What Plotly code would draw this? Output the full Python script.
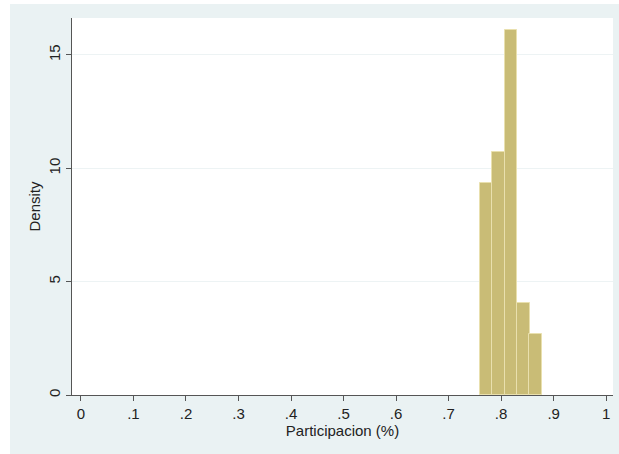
import plotly.graph_objects as go

# Histogram bins (Participacion share) and densities
bin_left = [0.759, 0.783, 0.807, 0.831, 0.854]
bin_width = 0.0238
density = [9.37, 10.73, 16.1, 4.04, 2.68]

x_ticks = [0, 0.1, 0.2, 0.3, 0.4, 0.5, 0.6, 0.7, 0.8, 0.9, 1]
x_tick_labels = ["0", ".1", ".2", ".3", ".4", ".5", ".6", ".7", ".8", ".9", "1"]
y_ticks = [0, 5, 10, 15]
y_tick_labels = ["0", "5", "10", "15"]

centers = [l + bin_width / 2 for l in bin_left]

W, H = 619, 454
ml, mr, mt, mb = 72, 6, 18, 59
pw = W - ml - mr
ph = H - mt - mb

fig = go.Figure()
fig.add_trace(go.Bar(
    x=centers, y=density, width=[bin_width] * len(centers),
    marker=dict(color="#c9bc76", line=dict(color="#e9e0ae", width=1)),
    hoverinfo="x+y",
))

font = dict(family="Liberation Sans, Arial, sans-serif", size=15, color="#222222")

# background shapes: bluish graph region, white plot region
fig.add_shape(type="rect", xref="paper", yref="paper",
              x0=(10 - ml) / pw, x1=(W - ml) / pw,
              y0=-mb / ph, y1=(H - 4 - mb) / ph,
              fillcolor="#eaf2f3", line=dict(width=0), layer="below")
fig.add_shape(type="rect", xref="paper", yref="paper",
              x0=0, x1=1, y0=0, y1=1,
              fillcolor="white", line=dict(width=0), layer="below")

fig.update_layout(
    width=W, height=H,
    margin=dict(l=ml, r=mr, t=mt, b=mb, pad=0),
    paper_bgcolor="white", plot_bgcolor="rgba(0,0,0,0)",
    showlegend=False, bargap=0, font=font,
)
fig.update_xaxes(
    range=[-0.017, 1.013], tickvals=x_ticks, ticktext=x_tick_labels,
    showline=True, linecolor="#555555", linewidth=1,
    ticks="outside", ticklen=5, tickcolor="#555555",
    showgrid=False, zeroline=False,
    title=dict(text="Participacion (%)", font=font, standoff=0),
    tickfont=font,
)
fig.update_yaxes(
    range=[0, 16.63], tickvals=y_ticks, ticktext=y_tick_labels,
    showline=True, linecolor="#555555", linewidth=1,
    ticks="outside", ticklen=5, tickcolor="#555555",
    showgrid=True, gridcolor="#edf3f4", gridwidth=1, zeroline=False,
    tickangle=-90,
    title=dict(text="Density", font=font, standoff=1),
    tickfont=font,
)

fig.write_html(
    "out.html",
    config={"displayModeBar": False},
    post_script="document.body.style.margin='0px';document.body.style.overflow='hidden';",
)
